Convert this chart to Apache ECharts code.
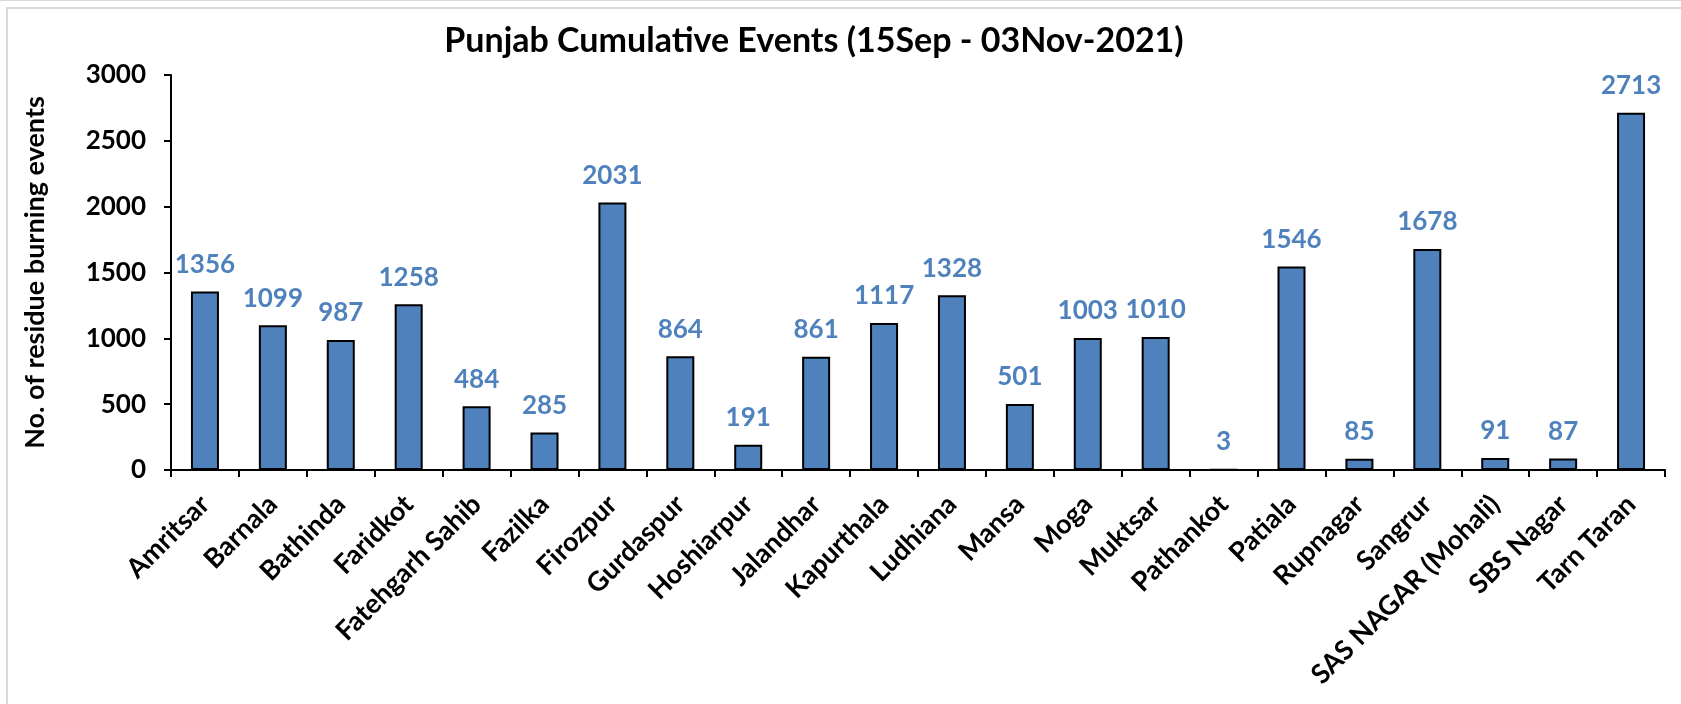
<!DOCTYPE html>
<html>
<head>
<meta charset="utf-8">
<script src="https://cdn.jsdelivr.net/npm/echarts@6/dist/echarts.min.js"></script>
<style>
  html, body { margin: 0; padding: 0; background: #fff; }
  #frame { position: absolute; left: 0; top: 0; width: 1681px; height: 1px; background: #d9d9d9; }
  #box { position: absolute; left: 6px; top: 7px; width: 1680px; height: 700px; border-left: 2px solid #d9d9d9; border-top: 2px solid #d9d9d9; }
  #main { position: absolute; left: 0; top: 0; width: 1681px; height: 704px; }
</style>
</head>
<body>
<div id="frame"></div>
<div id="box"></div>
<div id="main"></div>
<script>
// districts and cumulative residue burning events
var districts = ["Amritsar", "Barnala", "Bathinda", "Faridkot", "Fatehgarh Sahib", "Fazilka",
  "Firozpur", "Gurdaspur", "Hoshiarpur", "Jalandhar", "Kapurthala", "Ludhiana", "Mansa",
  "Moga", "Muktsar", "Pathankot", "Patiala", "Rupnagar", "Sangrur", "SAS NAGAR (Mohali)",
  "SBS Nagar", "Tarn Taran"];
var events = [1356, 1099, 987, 1258, 484, 285, 2031, 864, 191, 861, 1117, 1328, 501,
  1003, 1010, 3, 1546, 85, 1678, 91, 87, 2713];
var yTicks = [0, 500, 1000, 1500, 2000, 2500, 3000];

var fontFam = "Lato, 'Open Sans', sans-serif";

var chart = echarts.init(document.getElementById("main"));

var option = {
  animation: false,
  textStyle: { fontFamily: fontFam },
  title: {
    text: "Punjab Cumulative Events (15Sep - 03Nov-2021)",
    left: 809,
    top: 19,
    textAlign: "center",
    textStyle: { fontSize: 34, fontWeight: "bold", color: "#000", fontFamily: fontFam }
  },
  grid: { left: 171, right: 16, top: 75, bottom: 234 },
  xAxis: {
    type: "category",
    data: districts,
    axisLine: { lineStyle: { color: "#000", width: 2 } },
    axisTick: { show: true, length: 7, lineStyle: { color: "#000", width: 2 } },
    axisLabel: {
      rotate: 45,
      interval: 0,
      margin: 30,
      padding: [32, 0, 0, 0],
      fontSize: 27,
      fontWeight: "bold",
      color: "#000",
      fontFamily: fontFam
    }
  },
  yAxis: {
    type: "value",
    min: yTicks[0],
    max: yTicks[yTicks.length - 1],
    interval: 500,
    name: "No. of residue burning events",
    nameLocation: "middle",
    nameGap: 122,
    nameTextStyle: { fontSize: 27, fontWeight: "bold", color: "#000", fontFamily: fontFam },
    axisLine: { show: true, lineStyle: { color: "#000", width: 2 } },
    axisTick: { show: true, length: 7, lineStyle: { color: "#000", width: 2 } },
    splitLine: { show: false },
    axisLabel: {
      margin: 25,
      fontSize: 26,
      fontWeight: "bold",
      color: "#000",
      fontFamily: fontFam,
      formatter: function (v) { return String(v); }
    }
  },
  series: [
    {
      type: "bar",
      data: events,
      barWidth: 28,
      itemStyle: { color: "#4f81bd", borderColor: "#000", borderWidth: 2 },
      label: {
        show: true,
        position: "top",
        distance: 14,
        fontSize: 26,
        fontWeight: "bold",
        color: "#4f81bd",
        fontFamily: fontFam
      }
    }
  ]
};

chart.setOption(option);
</script>
</body>
</html>
